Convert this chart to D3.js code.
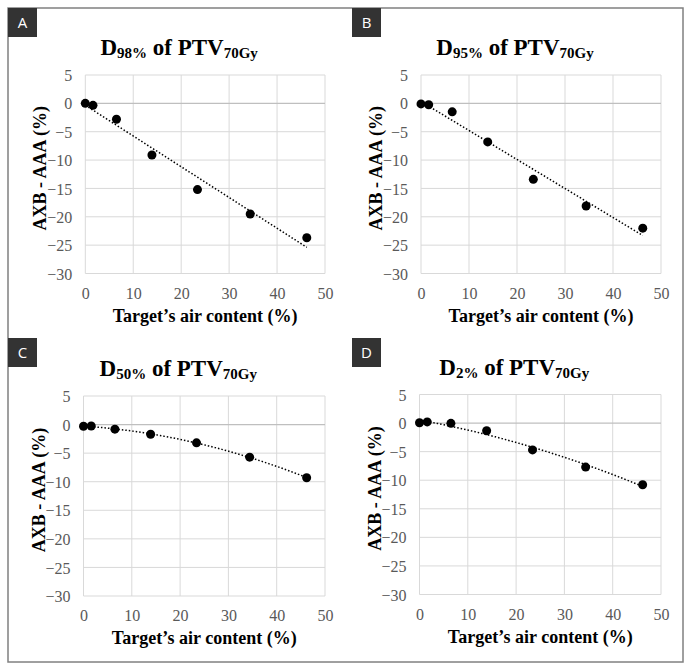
<!DOCTYPE html>
<html><head><meta charset="utf-8">
<script src="https://cdn.jsdelivr.net/npm/d3@7"></script>
<style>
body{margin:0;background:#fff;}
svg{display:block;}
</style></head>
<body>
<svg id="chart" width="693" height="672"></svg>
<script>
// ---- data ----
const airContent = [0, 1.6, 6.5, 13.9, 23.4, 34.4, 46.2];
const d98 = [0, -0.35, -2.8, -9.1, -15.2, -19.5, -23.7];
const d95 = [-0.1, -0.25, -1.5, -6.8, -13.4, -18.1, -22.0];
const d50 = [-0.3, -0.25, -0.8, -1.7, -3.2, -5.7, -9.3];
const d2  = [0.05, 0.2, -0.05, -1.35, -4.7, -7.7, -10.8];
const panelLetters = ["A", "B", "C", "D"];
const doseLevels = ["98%", "95%", "50%", "2%"];
const trendOrder = [1, 1, 2, 2];
const xTicks = [0, 10, 20, 30, 40, 50];
const yTicks = [5, 0, -5, -10, -15, -20, -25, -30];
const xTitle = "Target\u2019s air content (%)";
const yTitle = "AXB - AAA (%)";

const series = [d98, d95, d50, d2];
// plot rectangles (layout)
const rects = [
  {x0: 85.3, x1: 325, y0: 75, y1: 273.5, lx: 8, ly: 8},
  {x0: 421, x1: 661, y0: 75, y1: 273.5, lx: 352, ly: 8},
  {x0: 83.5, x1: 325, y0: 396, y1: 596, lx: 8, ly: 338},
  {x0: 419.5, x1: 661, y0: 394.5, y1: 594.5, lx: 352, ly: 338}
];

function polyFit(xs, ys, order) {
  const n = order + 1;
  const A = Array.from({length: n}, () => new Array(n + 1).fill(0));
  for (let k = 0; k < xs.length; k++) {
    for (let i = 0; i < n; i++) {
      for (let j = 0; j < n; j++) A[i][j] += Math.pow(xs[k], i + j);
      A[i][n] += ys[k] * Math.pow(xs[k], i);
    }
  }
  for (let i = 0; i < n; i++) {
    let p = i;
    for (let r = i + 1; r < n; r++) if (Math.abs(A[r][i]) > Math.abs(A[p][i])) p = r;
    [A[i], A[p]] = [A[p], A[i]];
    for (let r = 0; r < n; r++) {
      if (r === i) continue;
      const f = A[r][i] / A[i][i];
      for (let c = i; c <= n; c++) A[r][c] -= f * A[i][c];
    }
  }
  return A.map((row, i) => row[n] / row[i]);
}

const svg = d3.select("#chart");
svg.append("rect").attr("x", 8).attr("y", 8).attr("width", 675).attr("height", 654)
  .attr("fill", "none").attr("stroke", "#808080").attr("stroke-width", 1.5);

const serif = "'Liberation Serif','Times New Roman',serif";
const gridColor = "#d9d9d9";
const labelColor = "#595959";

series.forEach((ys, p) => {
  const r = rects[p];
  const g = svg.append("g").attr("font-family", serif);
  const x = d3.scaleLinear().domain([0, 50]).range([r.x0, r.x1]);
  const y = d3.scaleLinear().domain([-30, 5]).range([r.y1, r.y0]);

  // label box
  g.append("rect").attr("x", r.lx).attr("y", r.ly).attr("width", 29).attr("height", 29).attr("fill", "#333333");
  g.append("text").attr("x", r.lx + 14.5).attr("y", r.ly + 20).attr("text-anchor", "middle")
    .attr("fill", "#fff").style("font-family", "'Open Sans','Noto Sans',sans-serif").style("font-size", "15px")
    .text(panelLetters[p]);

  // grid
  g.append("g").selectAll("line").data(xTicks).join("line")
    .attr("x1", d => x(d)).attr("x2", d => x(d)).attr("y1", r.y0).attr("y2", r.y1)
    .attr("stroke", gridColor).attr("stroke-width", 1);
  g.append("g").selectAll("line").data(yTicks).join("line")
    .attr("x1", r.x0).attr("x2", r.x1).attr("y1", d => y(d)).attr("y2", d => y(d))
    .attr("stroke", d => d === 0 ? "#bfbfbf" : gridColor).attr("stroke-width", d => d === 0 ? 1.3 : 1);

  // axes tick labels via d3 axes
  const ax = d3.axisBottom(x).tickValues(xTicks).tickSize(0).tickPadding(0);
  const xg = g.append("g").attr("transform", `translate(0,${r.y1})`).call(ax)
    .attr("font-family", serif).attr("font-size", 16);
  xg.select(".domain").remove();
  xg.selectAll("text").attr("dy", null).attr("y", 25).attr("fill", labelColor);
  const ay = d3.axisLeft(y).tickValues(yTicks).tickSize(0).tickPadding(0);
  const yg = g.append("g").attr("transform", `translate(${r.x0 - 13},0)`).call(ay)
    .attr("font-family", serif).attr("font-size", 16);
  yg.select(".domain").remove();
  yg.selectAll("text").attr("dy", "0.35em").attr("x", 0).attr("fill", labelColor);

  // titles
  const cx = (r.x0 + r.x1) / 2;
  const t = g.append("text").attr("x", cx - 26).attr("y", r.y0 - 20).attr("text-anchor", "middle")
    .attr("fill", "#000").style("font-weight", "bold").style("font-size", "23px");
  t.append("tspan").text("D");
  t.append("tspan").attr("dy", 3).style("font-size", "15px").text(doseLevels[p]);
  t.append("tspan").attr("dy", -3).text(" of PTV");
  t.append("tspan").attr("dy", 3).style("font-size", "15px").text("70Gy");

  g.append("text").attr("x", cx).attr("y", r.y1 + 48).attr("text-anchor", "middle")
    .style("font-weight", "bold").style("font-size", "18px").attr("fill", "#000")
    .text(xTitle);
  const cy = (r.y0 + r.y1) / 2 - 6;
  g.append("text").attr("transform", `translate(${r.x0 - 39},${cy}) rotate(-90)`).attr("text-anchor", "middle")
    .style("font-weight", "bold").style("font-size", "18px").attr("fill", "#000")
    .text(yTitle);

  // trendline
  const coef = polyFit(airContent, ys, trendOrder[p]);
  const xmax = d3.max(airContent);
  const xs = d3.range(0, 101).map(i => xmax * i / 100);
  const line = d3.line().x(d => x(d)).y(d => y(coef.reduce((s, c, i) => s + c * Math.pow(d, i), 0)));
  g.append("path").datum(xs).attr("d", line).attr("fill", "none").attr("stroke", "#000")
    .attr("stroke-width", 1.5).attr("stroke-dasharray", "1.5,2");

  // points
  g.append("g").selectAll("circle").data(ys).join("circle")
    .attr("cx", (d, i) => x(airContent[i])).attr("cy", d => y(d)).attr("r", 4.5).attr("fill", "#000");
});
</script>
</body></html>
